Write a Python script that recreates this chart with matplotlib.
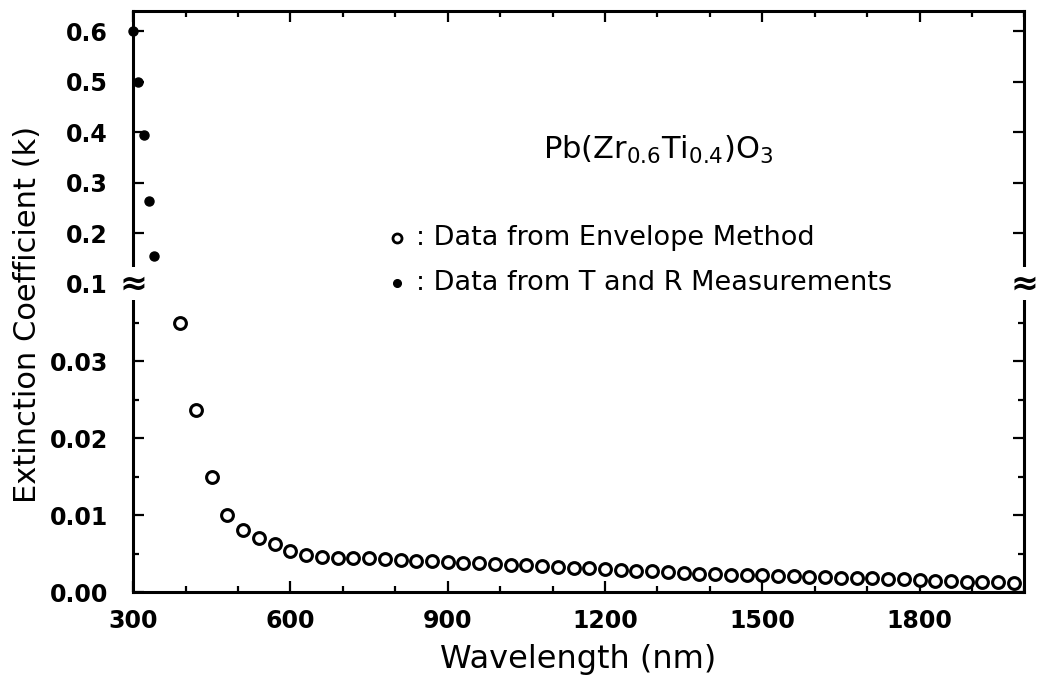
import numpy as np
import matplotlib.pyplot as plt
from matplotlib.ticker import MultipleLocator, FormatStrFormatter

# T and R measurements (filled dots)
tr_wl = [300, 310, 320, 330, 340]
tr_k = [0.60, 0.50, 0.395, 0.265, 0.155]

# envelope method (open circles)
env_wl = [390, 420, 450, 480, 510, 540, 570, 600, 630, 660, 690, 720, 750, 780,
          810, 840, 870, 900, 930, 960, 990, 1020, 1050, 1080, 1110, 1140, 1170,
          1200, 1230, 1260, 1290, 1320, 1350, 1380, 1410, 1440, 1470, 1500, 1530,
          1560, 1590, 1620, 1650, 1680, 1710, 1740, 1770, 1800, 1830, 1860, 1890,
          1920, 1950, 1980]
env_k = [0.0349, 0.0236, 0.0150, 0.0100, 0.0081, 0.0070, 0.0063, 0.0054, 0.0049,
         0.0046, 0.0044, 0.0044, 0.0044, 0.0043, 0.0042, 0.0041, 0.0040, 0.0039,
         0.0038, 0.0038, 0.0037, 0.0036, 0.0035, 0.0034, 0.0033, 0.0032, 0.0031,
         0.0030, 0.0029, 0.0028, 0.0027, 0.0026, 0.0025, 0.0024, 0.0024, 0.0023,
         0.0022, 0.0022, 0.0021, 0.0021, 0.0020, 0.0020, 0.0019, 0.0018, 0.0018,
         0.0017, 0.0017, 0.0016, 0.0015, 0.0015, 0.0014, 0.0013, 0.0013, 0.0012]

plt.rcParams['font.family'] = ['DejaVu Sans']

fig = plt.figure(figsize=(10.4, 6.96), dpi=100)
left, right = 0.128, 0.985
bot, brk, top = 0.149, 0.592, 0.984
ax_lo = fig.add_axes([left, bot, right - left, brk - bot])
ax_hi = fig.add_axes([left, brk, right - left, top - brk], sharex=ax_lo)

ax_lo.plot(env_wl, env_k, 'o', mfc='white', mec='black', ms=8.5, mew=2.2, clip_on=False)
ax_hi.plot(tr_wl, tr_k, 'o', color='black', ms=6.5, clip_on=False)

for ax in (ax_lo, ax_hi):
    for s in ax.spines.values():
        s.set_linewidth(2.2)
    ax.tick_params(which='both', direction='in', right=True, width=1.6)
    ax.tick_params(which='major', length=8, labelsize=17)
    ax.tick_params(which='minor', length=4)
    ax.tick_params(axis='y', pad=18)
    ax.tick_params(axis='x', pad=12)

ax_lo.set_xlim(300, 2000)
ax_lo.set_xticks([300, 600, 900, 1200, 1500, 1800])
ax_lo.xaxis.set_minor_locator(MultipleLocator(100))
ax_lo.set_ylim(0, 0.04)
ax_lo.set_yticks([0.0, 0.01, 0.02, 0.03])
ax_lo.yaxis.set_minor_locator(MultipleLocator(0.005))
ax_lo.yaxis.set_major_formatter(FormatStrFormatter('%.2f'))
ax_lo.spines['top'].set_visible(False)
ax_lo.tick_params(which='both', top=False)

ax_hi.set_ylim(0.1, 0.64)
ax_hi.set_yticks([0.1, 0.2, 0.3, 0.4, 0.5, 0.6])
ax_hi.yaxis.set_major_formatter(FormatStrFormatter('%.1f'))
ax_hi.spines['bottom'].set_visible(False)
ax_hi.tick_params(which='both', top=True, bottom=False, labelbottom=False)

for ax in (ax_lo, ax_hi):
    for lab in ax.get_xticklabels() + ax.get_yticklabels():
        lab.set_fontweight('bold')

# axis break marks
for xb in (left, right):
    fig.text(xb, brk, '\u2248', fontsize=24, fontweight='bold', ha='center', va='center',
             bbox=dict(facecolor='white', edgecolor='none', pad=0))

fig.text(0.556, 0.052, 'Wavelength (nm)', ha='center', va='center', fontsize=23)
fig.text(0.026, 0.548, 'Extinction Coefficient (k)', ha='center', va='center',
         rotation=90, fontsize=22)

fig.text(0.633, 0.785, r'Pb(Zr$_{0.6}$Ti$_{0.4}$)O$_3$', ha='center', va='center', fontsize=22)
ax_hi.plot([0.382], [0.658], 'o', transform=fig.transFigure, mfc='white', mec='black',
           ms=6.5, mew=2, clip_on=False)
ax_hi.plot([0.382], [0.594], 'o', transform=fig.transFigure, color='black', ms=5.5, clip_on=False)
fig.text(0.400, 0.658, ': Data from Envelope Method', ha='left', va='center', fontsize=19.5)
fig.text(0.400, 0.594, ': Data from T and R Measurements', ha='left', va='center', fontsize=19.5)

fig.savefig('out.png', dpi=100)
